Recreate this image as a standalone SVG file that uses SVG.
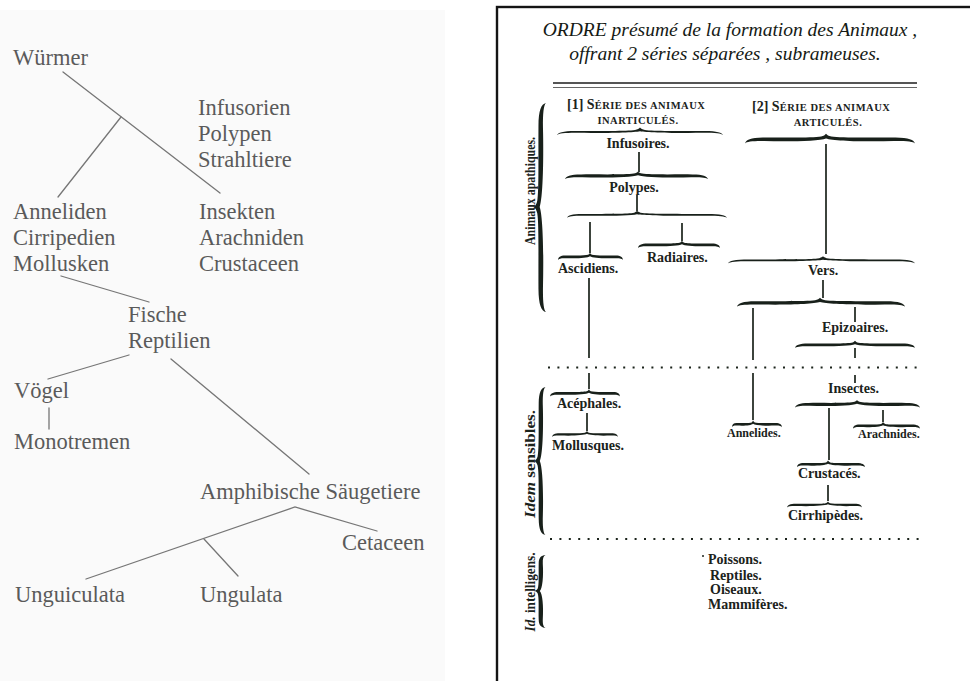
<svg xmlns="http://www.w3.org/2000/svg" xmlns:xlink="http://www.w3.org/1999/xlink" width="970" height="681" viewBox="0 0 970 681">
<style>
  .lt { font-family: "Liberation Serif", "DejaVu Serif", serif; font-size: 22.5px; fill: #5a5a5a; }
  .ll { stroke: #767676; stroke-width: 1.3; fill: none; stroke-linecap: round; }
  .rt { font-family: "Liberation Serif", "DejaVu Serif", serif; font-weight: bold; font-size: 14px; fill: #1b231b; }
  .rs { font-size: 12px; }
  .sc { font-size: 10.5px; letter-spacing: 0.5px; }
  .ti { font-family: "Liberation Serif", "DejaVu Serif", serif; font-style: italic; font-size: 19.5px; fill: #151a15; }
  .rl { stroke: #1b231b; stroke-width: 1.7; fill: none; }
  .dot { stroke: #1b231b; stroke-width: 2; stroke-dasharray: 2 7.4; fill: none; }
  .br { fill: #18201a; }
</style>
<defs>
  <path id="hb" d="M -50,4.5 C -49.5,0.6 -46.5,-1.5 -39,-1.6 C -24,-1.8 -8,-1.2 -3,-3 C -1.5,-3.6 -0.5,-5 0,-6.5 L 0,-1.2 C -4,0.8 -20,1.6 -38,1.2 C -45,1.1 -49,2 -50,4.5 Z"/>
  <path id="hk" d="M -50,4.5 C -49.5,0.2 -46.5,-2.2 -39,-2.3 C -24,-2.5 -8,-1.8 -3,-3.4 C -1.5,-4 -0.5,-5.2 0,-6.5 L 0,-1.2 C -4,1.5 -20,2.6 -38,1.8 C -45,1.6 -49,2.4 -50,4.5 Z"/>
</defs>

<rect x="0" y="0" width="970" height="681" fill="#ffffff"/>
<rect x="0" y="10" width="445" height="671" fill="#fafafa"/>

<!-- LEFT: German tree -->
<g id="left-connectors">
  <line class="ll" x1="63" y1="72" x2="220" y2="193"/>
  <line class="ll" x1="121" y1="117" x2="58" y2="197"/>
  <line class="ll" x1="61" y1="276" x2="149" y2="302"/>
  <line class="ll" x1="129" y1="355" x2="48" y2="379"/>
  <line class="ll" x1="49" y1="408" x2="49" y2="429"/>
  <line class="ll" x1="171" y1="359" x2="309" y2="474"/>
  <polyline class="ll" points="86,579 295,507 377,531"/>
  <line class="ll" x1="204" y1="539" x2="238" y2="576"/>
</g>
<g id="n-wuermer"><text class="lt" x="13" y="65">Würmer</text></g>
<g id="n-infusorien">
  <text class="lt" x="198" y="115">Infusorien</text>
  <text class="lt" x="198" y="141">Polypen</text>
  <text class="lt" x="198" y="167">Strahltiere</text>
</g>
<g id="n-anneliden">
  <text class="lt" x="13" y="219">Anneliden</text>
  <text class="lt" x="13" y="245">Cirripedien</text>
  <text class="lt" x="13" y="271">Mollusken</text>
</g>
<g id="n-insekten">
  <text class="lt" x="199" y="219">Insekten</text>
  <text class="lt" x="199" y="245">Arachniden</text>
  <text class="lt" x="199" y="271">Crustaceen</text>
</g>
<g id="n-fische">
  <text class="lt" x="128" y="322">Fische</text>
  <text class="lt" x="128" y="348">Reptilien</text>
</g>
<g id="n-voegel"><text class="lt" x="14" y="398">Vögel</text></g>
<g id="n-monotremen"><text class="lt" x="14" y="449">Monotremen</text></g>
<g id="n-amphibische"><text class="lt" x="200" y="499">Amphibische Säugetiere</text></g>
<g id="n-cetaceen"><text class="lt" x="342" y="550">Cetaceen</text></g>
<g id="n-unguiculata"><text class="lt" x="15" y="602">Unguiculata</text></g>
<g id="n-ungulata"><text class="lt" x="200" y="602">Ungulata</text></g>

<!-- RIGHT: Lamarck page -->
<rect x="497" y="7" width="490" height="690" fill="#ffffff" stroke="#141414" stroke-width="2.4"/>

<g id="title">
  <text class="ti" x="730" y="36" text-anchor="middle">ORDRE présumé de la formation des Animaux ,</text>
  <text class="ti" x="725" y="60" text-anchor="middle">offrant 2 séries séparées , subrameuses.</text>
  <line x1="553" y1="83" x2="917" y2="83" stroke="#555" stroke-width="2.2"/>
  <line x1="553" y1="87.5" x2="917" y2="87.5" stroke="#666" stroke-width="1"/>
</g>

<g id="header-1">
  <text class="rt" x="567" y="109" font-size="15">[1] S<tspan class="sc">ÉRIE DES ANIMAUX</tspan></text>
  <text class="rt sc" x="638" y="124" font-size="10" text-anchor="middle">INARTICULÉS.</text>
</g>
<g id="header-2">
  <text class="rt" x="752" y="111" font-size="15">[2] S<tspan class="sc">ÉRIE DES ANIMAUX</tspan></text>
  <text class="rt sc" x="828" y="126" text-anchor="middle">ARTICULÉS.</text>
</g>

<g id="connectors">
  <line class="rl" x1="639" y1="152" x2="639" y2="172"/>
  <line class="rl" x1="637" y1="195" x2="637" y2="211"/>
  <line class="rl" x1="590" y1="222" x2="590" y2="253"/>
  <line class="rl" x1="682" y1="223" x2="682" y2="241"/>
  <line class="rl" x1="826" y1="144" x2="826" y2="254" stroke-width="2"/>
  <line class="rl" x1="823" y1="280" x2="823" y2="298"/>
  <line class="rl" x1="753" y1="308" x2="753" y2="360"/>
  <line class="rl" x1="753" y1="373" x2="753" y2="420"/>
  <line class="rl" x1="855" y1="307" x2="855" y2="322"/>
  <line class="rl" x1="855" y1="348" x2="855" y2="358"/>
  <line class="rl" x1="855" y1="375" x2="855" y2="383"/>
  <line class="rl" x1="829" y1="408" x2="829" y2="460"/>
  <line class="rl" x1="883" y1="410" x2="883" y2="422"/>
  <line class="rl" x1="589" y1="278" x2="589" y2="358"/>
  <line class="rl" x1="589" y1="373" x2="589" y2="389"/>
  <line class="rl" x1="587" y1="413" x2="587" y2="431"/>
  <line class="rl" x1="828" y1="485" x2="828" y2="501"/>
  <line class="dot" x1="548" y1="367.5" x2="922" y2="367.5"/>
  <line class="dot" x1="550" y1="539" x2="920" y2="539"/>
  <g class="br">
    <use xlink:href="#hb" transform="translate(640,132) scale(1.66,0.7)"/>
    <use xlink:href="#hb" transform="translate(640,132) scale(-1.66,0.7)"/>
    <use xlink:href="#hk" transform="translate(638,176) scale(1.46,0.7)"/>
    <use xlink:href="#hk" transform="translate(638,176) scale(-1.4,0.7)"/>
    <use xlink:href="#hb" transform="translate(637,215) scale(1.4,0.65)"/>
    <use xlink:href="#hb" transform="translate(637,215) scale(-1.8,0.65)"/>
    <use xlink:href="#hk" transform="translate(590,257) scale(0.64,0.65)"/>
    <use xlink:href="#hk" transform="translate(590,257) scale(-0.66,0.65)"/>
    <use xlink:href="#hk" transform="translate(682,245) scale(0.88,0.65)"/>
    <use xlink:href="#hk" transform="translate(682,245) scale(-0.76,0.65)"/>
    <use xlink:href="#hk" transform="translate(826,139.5) scale(1.62,0.9)"/>
    <use xlink:href="#hk" transform="translate(826,139.5) scale(-1.78,0.9)"/>
    <use xlink:href="#hb" transform="translate(823,260.5) scale(1.9,0.65)"/>
    <use xlink:href="#hb" transform="translate(823,260.5) scale(-1.84,0.65)"/>
    <use xlink:href="#hk" transform="translate(820,303) scale(1.66,0.8)"/>
    <use xlink:href="#hk" transform="translate(820,303) scale(-1.7,0.8)"/>
    <use xlink:href="#hk" transform="translate(855,345) scale(1.2,0.65)"/>
    <use xlink:href="#hk" transform="translate(855,345) scale(-1.2,0.65)"/>
    <use xlink:href="#hk" transform="translate(857,404.5) scale(1.24,0.7)"/>
    <use xlink:href="#hk" transform="translate(857,404.5) scale(-1.26,0.7)"/>
    <use xlink:href="#hk" transform="translate(753,424.5) scale(0.42,0.6)"/>
    <use xlink:href="#hk" transform="translate(753,424.5) scale(-0.58,0.6)"/>
    <use xlink:href="#hk" transform="translate(883,426) scale(0.6,0.6)"/>
    <use xlink:href="#hk" transform="translate(883,426) scale(-0.74,0.6)"/>
    <use xlink:href="#hk" transform="translate(828,464.5) scale(0.62,0.6)"/>
    <use xlink:href="#hk" transform="translate(828,464.5) scale(-0.74,0.6)"/>
    <use xlink:href="#hk" transform="translate(828,505) scale(0.82,0.55)"/>
    <use xlink:href="#hk" transform="translate(828,505) scale(-0.68,0.55)"/>
    <use xlink:href="#hk" transform="translate(589,393.5) scale(0.78,0.65)"/>
    <use xlink:href="#hk" transform="translate(589,393.5) scale(-0.62,0.65)"/>
    <use xlink:href="#hk" transform="translate(587,434.5) scale(0.7,0.55)"/>
    <use xlink:href="#hk" transform="translate(587,434.5) scale(-0.62,0.55)"/>
    <use xlink:href="#hk" transform="translate(541,207) rotate(-90) scale(2.1,1.1)"/>
    <use xlink:href="#hk" transform="translate(541,207) rotate(-90) scale(-2.08,1.1)"/>
    <use xlink:href="#hk" transform="translate(541,461) rotate(-90) scale(1.48,1)"/>
    <use xlink:href="#hk" transform="translate(541,461) rotate(-90) scale(-1.48,1)"/>
    <use xlink:href="#hk" transform="translate(541,591) rotate(-90) scale(0.74,1)"/>
    <use xlink:href="#hk" transform="translate(541,591) rotate(-90) scale(-0.72,1)"/>
  </g>
</g>

<g id="n-animaux-apathiques"><text class="rt" font-size="11" text-anchor="middle" transform="translate(535,191) rotate(-90)" textLength="108" lengthAdjust="spacingAndGlyphs">Animaux apathiques.</text></g>
<g id="n-idem-sensibles"><text class="rt" font-size="13" text-anchor="middle" transform="translate(535,464) rotate(-90)" textLength="108" lengthAdjust="spacingAndGlyphs"><tspan font-style="italic">Idem</tspan> sensibles.</text></g>
<g id="n-id-intelligens"><text class="rt" font-size="11.5" text-anchor="middle" transform="translate(535,592) rotate(-90)" textLength="79" lengthAdjust="spacingAndGlyphs"><tspan font-style="italic">Id.</tspan> intelligens.</text></g>

<g id="n-infusoires"><text class="rt" x="638" y="148" text-anchor="middle">Infusoires.</text></g>
<g id="n-polypes"><text class="rt" x="634" y="192" text-anchor="middle">Polypes.</text></g>
<g id="n-ascidiens"><text class="rt" x="558" y="273">Ascidiens.</text></g>
<g id="n-radiaires"><text class="rt" x="647" y="262">Radiaires.</text></g>
<g id="n-vers"><text class="rt" x="808" y="275">Vers.</text></g>
<g id="n-epizoaires"><text class="rt" x="822" y="332">Epizoaires.</text></g>
<g id="n-insectes"><text class="rt" x="828" y="393">Insectes.</text></g>
<g id="n-annelides"><text class="rt rs" x="727" y="437">Annelides.</text></g>
<g id="n-arachnides"><text class="rt rs" x="858" y="438">Arachnides.</text></g>
<g id="n-crustaces"><text class="rt" x="798" y="478">Crustacés.</text></g>
<g id="n-cirrhipedes"><text class="rt" x="788" y="520">Cirrhipèdes.</text></g>
<g id="n-acephales"><text class="rt" x="557" y="408">Acéphales.</text></g>
<g id="n-mollusques"><text class="rt" x="552" y="450">Mollusques.</text></g>
<g id="n-vertebres">
  <circle cx="703" cy="556" r="1" fill="#1b231b"/>
  <text class="rt" x="708" y="564">Poissons.</text>
  <text class="rt" x="710" y="580">Reptiles.</text>
  <text class="rt" x="710" y="594">Oiseaux.</text>
  <text class="rt" x="708" y="609">Mammifères.</text>
</g>
</svg>
